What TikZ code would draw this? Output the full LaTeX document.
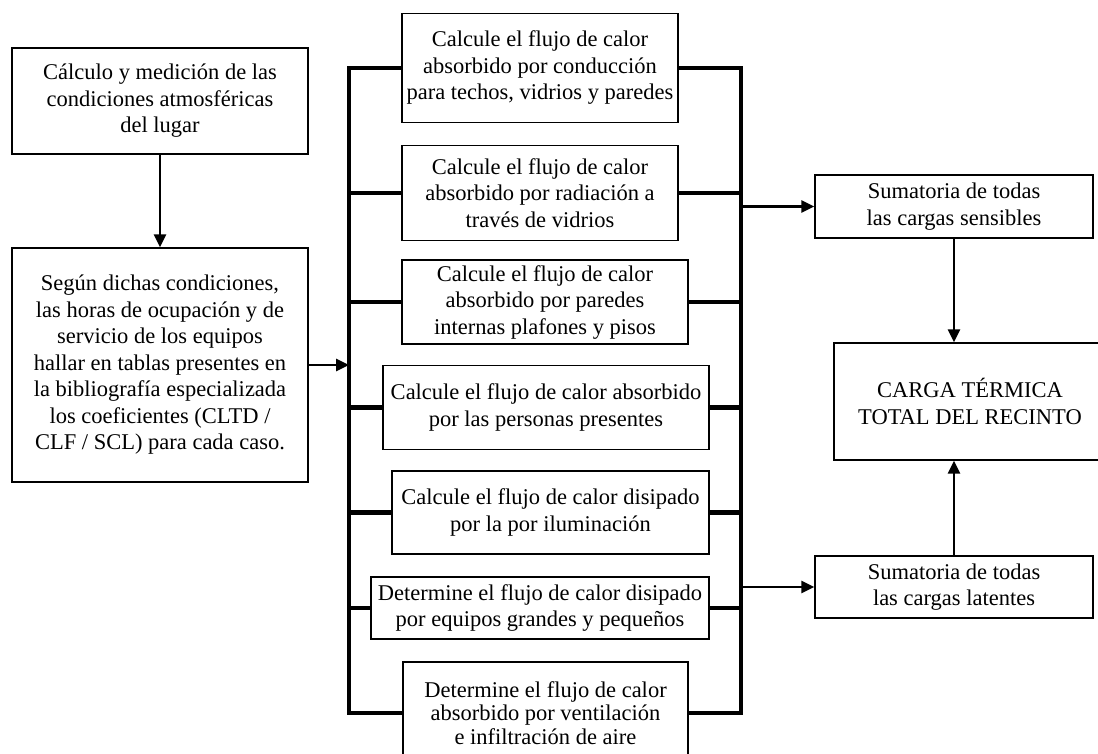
\documentclass[tikz,border=0pt]{standalone}
\usepackage{fontspec}
\setmainfont{Liberation Serif}
\usetikzlibrary{arrows.meta,calc}
\newcommand{\boxfont}{\fontsize{22.5pt}{26.5pt}\selectfont}
\newcommand{\tightfont}{\fontsize{22.5pt}{23.5pt}\selectfont}
\tikzset{
  box/.style={draw, line width=1.3pt, align=center, inner sep=0pt, font=\boxfont, anchor=center},
  bus/.style={line width=4.4pt, line join=miter, line cap=butt},
  arr/.style={line width=2.8pt, -{Triangle[length=13pt,width=12pt]}}
}
\begin{document}
\begin{tikzpicture}[x=1pt,y=-1pt]
\useasboundingbox (0,0) rectangle (1098,753);
\fill[white] (0,0) rectangle (1098,753);
% left column
\node[box, minimum width=296pt, minimum height=106pt] (c1) at (160,101) {Cálculo y medición de las\\condiciones atmosféricas\\del lugar};
\node[box, minimum width=296pt, minimum height=234pt] (c2) at (160,365) {Según dichas condiciones,\\las horas de ocupación y de\\servicio de los equipos\\hallar en tablas presentes en\\la bibliografía especializada\\los coeficientes (CLTD /\\CLF / SCL) para cada caso.};
% middle column
\node[box, minimum width=276pt, minimum height=109pt] (b1) at (540,68) {Calcule el flujo de calor\\absorbido por conducción\\para techos, vidrios y paredes};
\node[box, minimum width=276pt, minimum height=95pt] (b2) at (540,193) {Calcule el flujo de calor\\absorbido por radiación a\\través de vidrios};
\node[box, minimum width=286pt, minimum height=84pt] (b3) at (545,302) {Calcule el flujo de calor\\absorbido por paredes\\internas plafones y pisos};
\node[box, minimum width=326pt, minimum height=84pt] (b4) at (546,407.5) {Calcule el flujo de calor absorbido\\por las personas presentes};
\node[box, minimum width=317pt, minimum height=83pt] (b5) at (550.5,512.5) {Calcule el flujo de calor disipado\\por la por iluminación};
\node[box, minimum width=338pt, minimum height=62pt] (b6) at (540,608) {Determine el flujo de calor disipado\\por equipos grandes y pequeños};
\node[box, font=\tightfont, minimum width=285pt, minimum height=102pt] (b7) at (545.5,713) {Determine el flujo de calor\\absorbido por ventilación\\e infiltración de aire};
% right column
\node[box, minimum width=278pt, minimum height=63pt] (sen) at (954,206.5) {Sumatoria de todas\\las cargas sensibles};
\node[box, minimum width=278pt, minimum height=62pt] (lat) at (954,587) {Sumatoria de todas\\las cargas latentes};
\node[box, minimum width=272pt, minimum height=117pt] (tot) at (970,401.5) {CARGA TÉRMICA\\TOTAL DEL RECINTO};
% bus corners
\coordinate (lt) at (349,68);
\coordinate (lb) at (349,713);
\coordinate (rt) at (741,68);
\coordinate (rb) at (741,713);
% left bus
\draw[bus] (b1.west) -- (lt) -- (lb) -- (lb -| b7.west);
\foreach \b in {b2,b3,b4,b5,b6} \draw[bus] (\b.west) -- (\b.west -| lt);
% right bus
\draw[bus] (b1.east) -- (rt) -- (rb) -- (rb -| b7.east);
\foreach \b in {b2,b3,b4,b5,b6} \draw[bus] (\b.east) -- (\b.east -| rt);
% arrows
\draw[arr] (c1.south) -- (c2.north);
\draw[arr] (c2.east) -- (c2.east -| lt);
\draw[arr] (sen.west -| rt) -- (sen.west);
\draw[arr] (lat.west -| rt) -- (lat.west);
\draw[arr] (sen.south) -- (sen.south |- tot.north);
\draw[arr] (lat.north) -- (lat.north |- tot.south);
\end{tikzpicture}
\end{document}
